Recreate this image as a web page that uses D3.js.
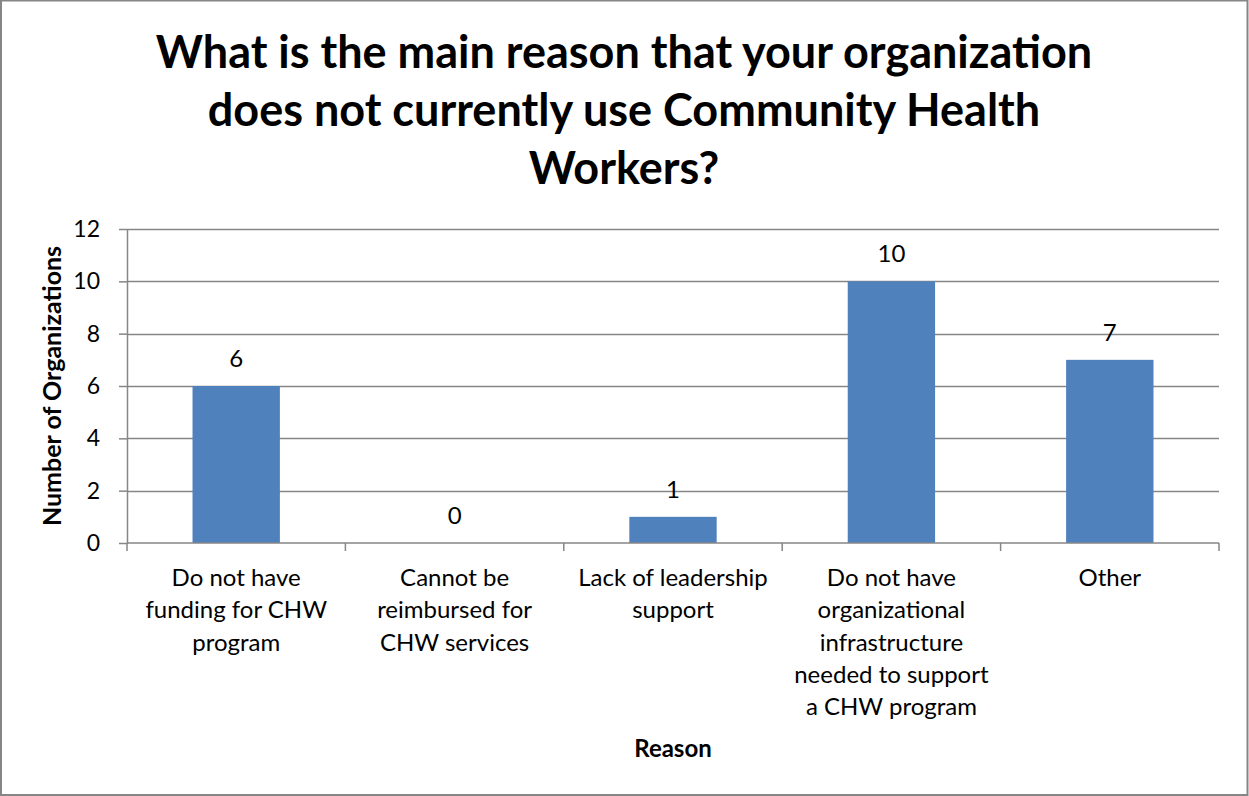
<!DOCTYPE html>
<html>
<head>
<meta charset="utf-8">
<script src="https://cdn.jsdelivr.net/npm/d3@7"></script>
<style>
  html, body { margin: 0; padding: 0; background: #fff; }
  svg { display: block; }
  text { font-family: Lato, "Open Sans", sans-serif; fill: #000; }
</style>
</head>
<body>
<svg id="chart" width="1249" height="796"></svg>
<script>
// Survey responses: main reason organizations do not use CHWs
const categories = [
  "Do not have\nfunding for CHW\nprogram",
  "Cannot be\nreimbursed for\nCHW services",
  "Lack of leadership\nsupport",
  "Do not have\norganizational\ninfrastructure\nneeded to support\na CHW program",
  "Other"
];
const counts = [6, 0, 1, 10, 7];
const yTicks = [0, 2, 4, 6, 8, 10, 12];
const titleLines = [
  "What is the main reason that your organization",
  "does not currently use Community Health",
  "Workers?"
];
const yTitle = "Number of Organizations";
const xTitle = "Reason";

const W = 1249, H = 796;
const plot = { left: 127, right: 1219, top: 229, bottom: 543 };
const axisColor = "#868686";

const svg = d3.select("#chart");

// outer frame
svg.append("rect")
  .attr("x", 1).attr("y", 0.5).attr("width", W - 2.5).attr("height", H - 1.5)
  .attr("fill", "#fff").attr("stroke", axisColor).attr("stroke-width", 2);

const x = d3.scaleBand()
  .domain(categories)
  .range([plot.left, plot.right])
  .paddingInner(0.6)
  .paddingOuter(0.3);

const y = d3.scaleLinear()
  .domain([0, 12])
  .range([plot.bottom, plot.top]);

// horizontal gridlines
svg.append("g")
  .selectAll("line")
  .data(yTicks.filter(d => d > 0))
  .join("line")
  .attr("x1", plot.left).attr("x2", plot.right)
  .attr("y1", d => Math.round(y(d)) + 0.5).attr("y2", d => Math.round(y(d)) + 0.5)
  .attr("stroke", axisColor).attr("stroke-width", 1.5);

// bars
svg.append("g")
  .selectAll("rect")
  .data(counts)
  .join("rect")
  .attr("x", (d, i) => x(categories[i]))
  .attr("width", x.bandwidth())
  .attr("y", d => y(d))
  .attr("height", d => y(0) - y(d))
  .attr("fill", "#4F81BD");

// y axis
const yAxis = svg.append("g")
  .attr("transform", `translate(${plot.left},0)`)
  .call(d3.axisLeft(y).tickValues(yTicks).tickSize(8).tickPadding(19).tickSizeOuter(0));
yAxis.select(".domain").attr("stroke", axisColor).attr("stroke-width", 1.5);
yAxis.selectAll(".tick line").attr("stroke", axisColor).attr("stroke-width", 1.5);
yAxis.selectAll(".tick text")
  .style("font-family", "Lato, sans-serif").style("font-size", "23px").attr("fill", "#000");

// x axis line with ticks at category boundaries
const step = x.step();
const xAxis = svg.append("g");
xAxis.append("line")
  .attr("x1", plot.left).attr("x2", plot.right)
  .attr("y1", plot.bottom).attr("y2", plot.bottom)
  .attr("stroke", axisColor).attr("stroke-width", 1.5);
xAxis.selectAll("line.tk")
  .data(d3.range(categories.length + 1))
  .join("line").attr("class", "tk")
  .attr("x1", i => plot.left + i * step).attr("x2", i => plot.left + i * step)
  .attr("y1", plot.bottom).attr("y2", plot.bottom + 8)
  .attr("stroke", axisColor).attr("stroke-width", 1.5);

// category labels
svg.append("g")
  .selectAll("text")
  .data(categories)
  .join("text")
  .attr("text-anchor", "middle")
  .style("font-size", "24px")
  .each(function (d) {
    const cx = x(d) + x.bandwidth() / 2;
    d3.select(this).selectAll("tspan")
      .data(d.split("\n"))
      .join("tspan")
      .attr("x", cx)
      .attr("y", (l, j) => 586 + j * 32.3)
      .text(l => l);
  });

// value labels
svg.append("g")
  .selectAll("text")
  .data(counts)
  .join("text")
  .attr("text-anchor", "middle")
  .style("font-size", "24px")
  .attr("x", (d, i) => x(categories[i]) + x.bandwidth() / 2)
  .attr("y", d => y(d) - 19)
  .text(d => d);

// title
svg.append("g")
  .selectAll("text")
  .data(titleLines)
  .join("text")
  .attr("text-anchor", "middle")
  .style("font-size", "45px").style("font-weight", "bold")
  .attr("x", 624)
  .attr("y", (d, i) => 68 + i * 58)
  .text(d => d);

// axis titles
svg.append("text")
  .attr("transform", `translate(61,${(plot.top + plot.bottom) / 2}) rotate(-90)`)
  .attr("text-anchor", "middle")
  .style("font-size", "25px").style("font-weight", "bold")
  .text(yTitle);

svg.append("text")
  .attr("x", (plot.left + plot.right) / 2)
  .attr("y", 757)
  .attr("text-anchor", "middle")
  .style("font-size", "24px").style("font-weight", "bold")
  .text(xTitle);
</script>
</body>
</html>
